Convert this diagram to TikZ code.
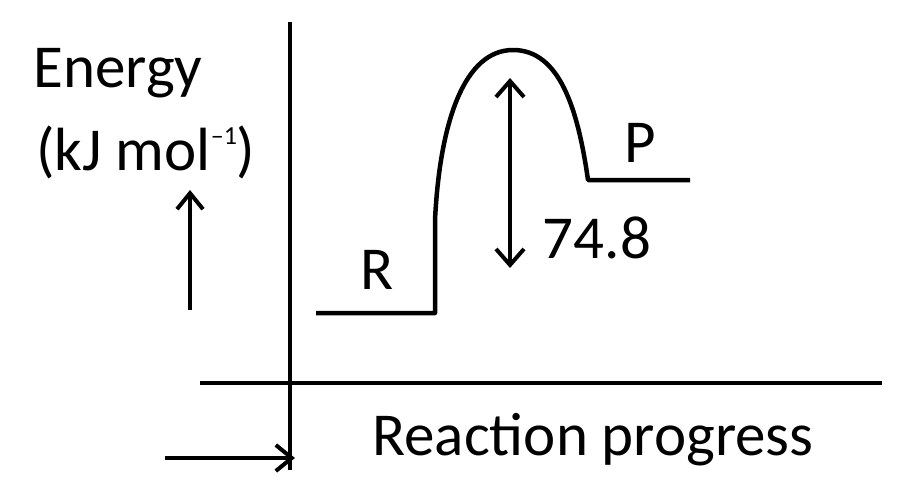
\documentclass[tikz,border=0pt]{standalone}
\usepackage{fontspec}
\setmainfont{Carlito}
\usetikzlibrary{arrows.meta}
\begin{document}
\begin{tikzpicture}[x=1pt,y=-1pt,
    lbl/.style={font=\fontsize{61}{64}\selectfont},
    ax/.style={line width=4pt},
    arr/.style={line width=4pt,-{Straight Barb[length=16pt,width=26pt,line width=4pt]}}]
  \useasboundingbox (0,0) rectangle (900,493);
  % axes
  \draw[ax] (290,22) -- (290,470);
  \draw[ax] (200,383) -- (882,383);
  % energy profile
  \draw[line width=4.5pt,line join=round]
    (316,313) -- (435,313) -- (435,220)
    .. controls (440,120) and (465,50) .. (513,50)
    .. controls (560,50) and (578,110) .. (588,180) -- (690,180);
  \node (top) at (510,78) {};
  \node (bot) at (510,268) {};
  \draw[line width=4pt,{Straight Barb[length=16pt,width=28pt,line width=4pt]}-{Straight Barb[length=16pt,width=28pt,line width=4pt]}] (top.center) -- (bot.center);
  % labels
  \node[lbl] (R) at (377,270) {R};
  \node[lbl] (P) at (640,143) {P};
  \node[lbl] (dH) at (597,238) {74.8};
  \node[lbl] (energy) at (118,73) {Energy};
  \node[lbl] (unit) at (146,152) {(kJ mol\raisebox{0.42em}{\fontsize{26}{28}\selectfont --1})};
  \node[lbl] (xlab) at (593,440) {Reaction progress};
  % direction arrows
  \coordinate (u0) at (190,310);
  \coordinate (u1) at (190,190);
  \draw[arr] (u0) -- (u1);
  \coordinate (r0) at (165,458);
  \coordinate (r1) at (295,458);
  \draw[arr] (r0) -- (r1);
\end{tikzpicture}
\end{document}
